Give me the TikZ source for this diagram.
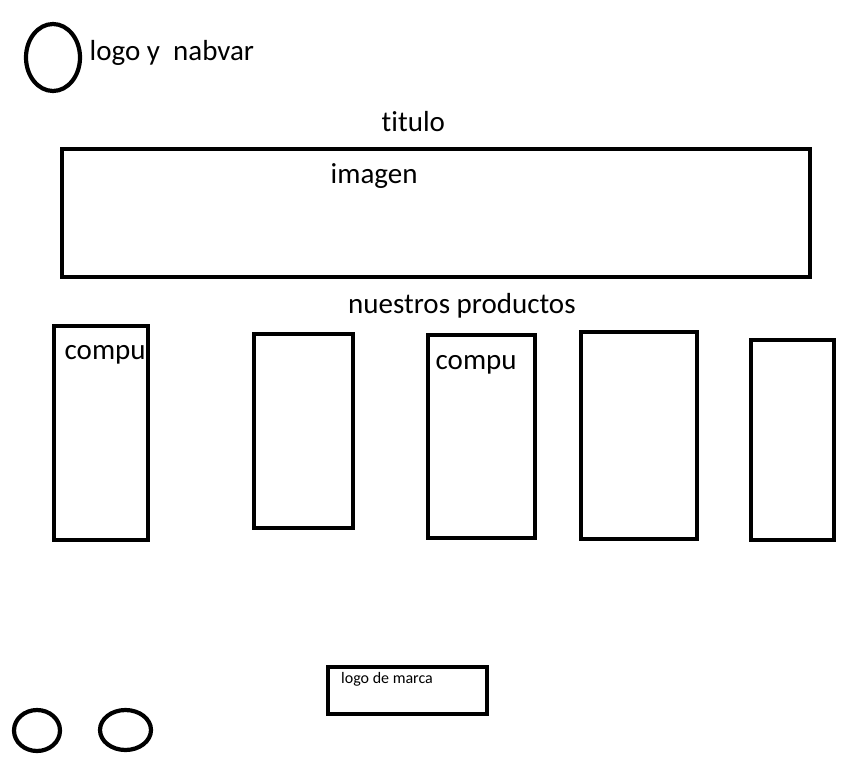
\documentclass[tikz,border=0pt]{standalone}
\usepackage{fontspec}
\setmainfont{Carlito}[Ligatures=NoCommon]
\usetikzlibrary{shapes.geometric}

\tikzset{
  caja/.style={draw, line width=4.2pt, rectangle, inner sep=0pt, outer sep=0pt},
  ovalo/.style={draw, line width=4.2pt, ellipse, inner sep=0pt, outer sep=0pt},
  texto/.style={anchor=base west, inner sep=0pt, font=\fontsize{29}{35}\selectfont},
  textochico/.style={anchor=base west, inner sep=0pt, font=\fontsize{16}{19}\selectfont}
}

\begin{document}
\begin{tikzpicture}[x=1pt, y=-1pt]
  \useasboundingbox (0,0) rectangle (851,774);
  % cabecera
  \node[ovalo, minimum width=54, minimum height=67] (logo) at (53,57.5) {};
  \node[texto] (nav) at (89.5,60) {logo y\ \ nabvar};
  \node[texto] (titulo) at (381.5,131) {titulo};
  \node[caja, minimum width=748, minimum height=128] (banner) at (436,213) {};
  \node[texto] (imagen) at (330.5,183) {imagen};
  % productos
  \node[texto] (prodtit) at (348,313) {nuestros productos};
  \node[caja, minimum width=94, minimum height=214] (prod1) at (101,433) {};
  \node[caja, minimum width=99, minimum height=194] (prod2) at (303.5,431) {};
  \node[caja, minimum width=107, minimum height=203] (prod3) at (481.5,436.5) {};
  \node[caja, minimum width=116, minimum height=207] (prod4) at (639,435.5) {};
  \node[caja, minimum width=83, minimum height=200] (prod5) at (792.5,440) {};
  \node[texto] (compua) at (64.5,359) {compu};
  \node[texto] (compub) at (435.5,369) {compu};
  % pie
  \node[caja, minimum width=159, minimum height=47] (marca) at (407.5,690.5) {};
  \node[textochico] (marcatxt) at (341,683) {logo de marca};
  \node[ovalo, minimum width=46, minimum height=41] (redA) at (37,730.5) {};
  \node[ovalo, minimum width=51, minimum height=40] (redB) at (125.5,730) {};
\end{tikzpicture}
\end{document}
